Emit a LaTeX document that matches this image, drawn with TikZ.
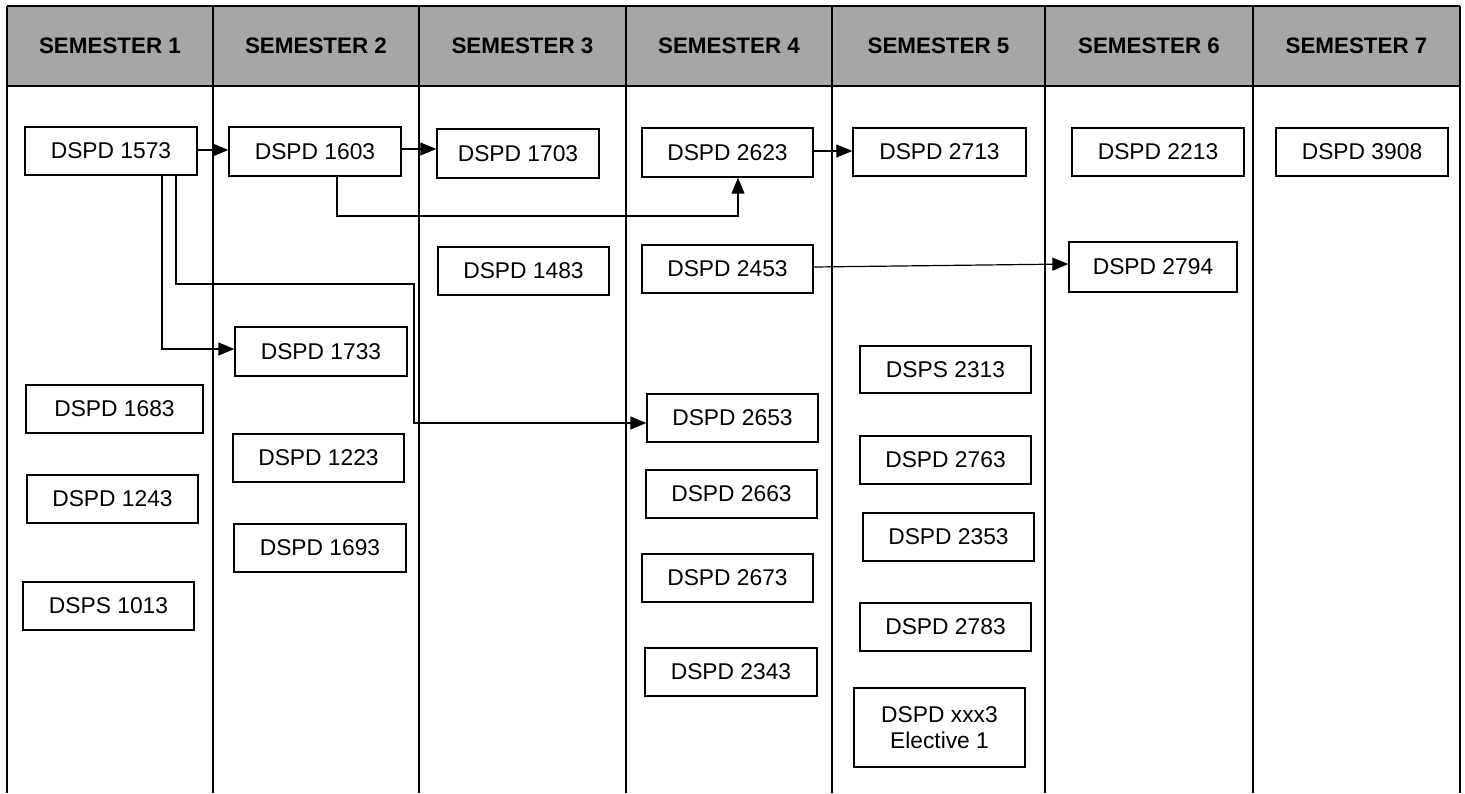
\documentclass[tikz,border=0pt]{standalone}
\usepackage{fontspec}
\setmainfont{Liberation Sans}
\usetikzlibrary{arrows.meta}
\definecolor{hdr}{RGB}{166,166,166}
\tikzset{
  box/.style={draw, line width=0.7pt, inner sep=0pt, align=center, font=\fontsize{11.4}{13}\selectfont},
  hdrtext/.style={font=\fontsize{11.2}{13}\selectfont\bfseries, inner sep=0pt},
  grid/.style={line width=1pt},
  conn/.style={line width=0.6pt, -{Triangle[length=8pt,width=6.5pt]}},
  plain/.style={line width=0.6pt}
}
\newcommand\cbox[6]{\node[box, minimum width={(#4-#2)*0.5pt}, minimum height={(#5-#3)*0.5pt}] (#1) at ({(#2+#4)/2},{(#3+#5)/2}) {#6};}
\begin{document}
\begin{tikzpicture}[x=0.5pt,y=-0.5pt]
\useasboundingbox (0,0) rectangle (1465,793);
% header
\fill[hdr] (7,6) rectangle (1460,86);
\draw[grid] (7,6) -- (1460,6);
\draw[grid] (7,86) -- (1460,86);
\foreach \xx in {7,213,419,626,832,1045,1253,1460} {\draw[grid] (\xx,6) -- (\xx,793);}
\node[hdrtext] (h1) at (110,46) {SEMESTER 1};
\node[hdrtext] (h2) at (316,46) {SEMESTER 2};
\node[hdrtext] (h3) at (522.5,46) {SEMESTER 3};
\node[hdrtext] (h4) at (729,46) {SEMESTER 4};
\node[hdrtext] (h5) at (938.5,46) {SEMESTER 5};
\node[hdrtext] (h6) at (1149,46) {SEMESTER 6};
\node[hdrtext] (h7) at (1356.5,46) {SEMESTER 7};
% boxes
\cbox{n1573}{25}{127}{197}{175}{DSPD 1573}
\cbox{n1603}{229}{127}{401}{176}{DSPD 1603}
\cbox{n1703}{437}{129}{599}{178}{DSPD 1703}
\cbox{n2623}{642}{128}{813}{177}{DSPD 2623}
\cbox{n2713}{853}{128}{1026}{176}{DSPD 2713}
\cbox{n2213}{1072}{128}{1244}{176}{DSPD 2213}
\cbox{n3908}{1276}{128}{1448}{176}{DSPD 3908}
\cbox{n1483}{438}{247}{609}{295}{DSPD 1483}
\cbox{n2453}{642}{245}{813}{293}{DSPD 2453}
\cbox{n2794}{1069}{242}{1237}{292}{DSPD 2794}
\cbox{n1733}{235}{327}{407}{376}{DSPD 1733}
\cbox{n1683}{26}{385}{203}{433}{DSPD 1683}
\cbox{n1223}{233}{434}{404}{482}{DSPD 1223}
\cbox{n1243}{27}{475}{198}{523}{DSPD 1243}
\cbox{n1693}{234}{524}{406}{572}{DSPD 1693}
\cbox{n1013}{23}{582}{194}{630}{DSPS 1013}
\cbox{n2313}{860}{346}{1031}{393}{DSPS 2313}
\cbox{n2653}{647}{394}{818}{442}{DSPD 2653}
\cbox{n2663}{646}{470}{817}{518}{DSPD 2663}
\cbox{n2673}{642}{554}{813}{602}{DSPD 2673}
\cbox{n2343}{645}{648}{817}{696}{DSPD 2343}
\cbox{n2763}{860}{436}{1031}{484}{DSPD 2763}
\cbox{n2353}{863}{513}{1034}{561}{DSPD 2353}
\cbox{n2783}{860}{603}{1031}{651}{DSPD 2783}
\cbox{nxxx3}{854}{688}{1025}{767}{DSPD xxx3\\Elective 1}
% connector bend points
\coordinate (k1) at (337,216);
\coordinate (k2) at (738,216);
\coordinate (k3) at (162,349);
\coordinate (k4) at (176,284);
\coordinate (k5) at (414,423);
\coordinate (k6) at (0,149);
\coordinate (k7) at (0,151);
\coordinate (k8) at (0,150);
% connectors
\draw[conn] (n1573.east |- k8) -- (n1603.west |- k8);
\draw[conn] (n1603.east |- k6) -- (n1703.west |- k6);
\draw[conn] (n2623.east |- k7) -- (n2713.west |- k7);
\draw[conn] (n1603.south -| k1) |- (k2) -- (n2623.south -| k2);
\draw[conn] (n1573.south -| k3) |- (n1733.west |- k3);
\draw[conn] (n1573.south -| k4) |- (k5 |- k4) -- (k5) -- (n2653.west |- k5);
\draw[conn] ([yshift=1pt]n2453.east) -- ([yshift=1.5pt]n2794.west);
\end{tikzpicture}
\end{document}
